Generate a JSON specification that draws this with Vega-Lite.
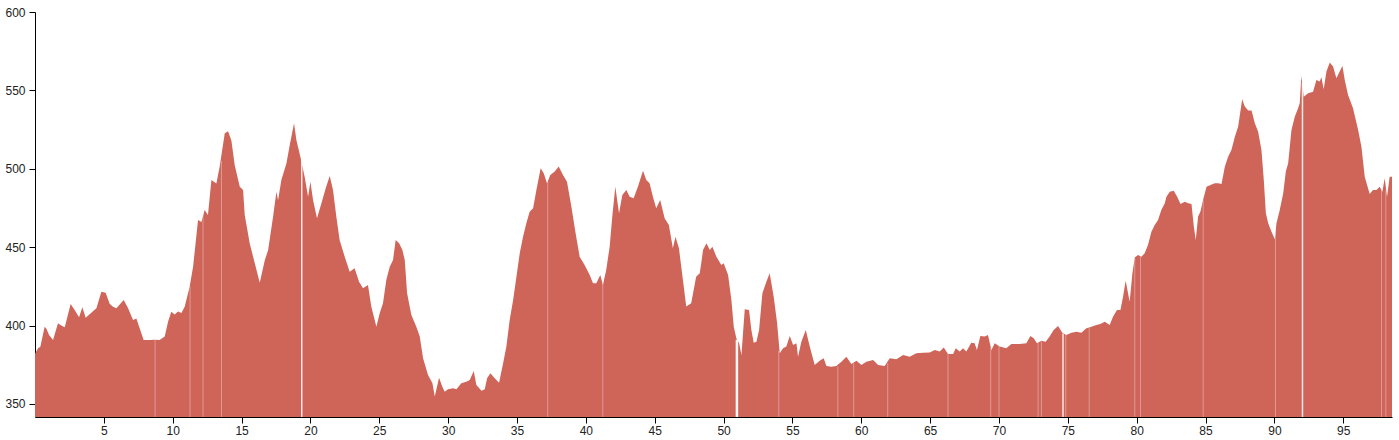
{
  "$schema": "https://vega.github.io/schema/vega-lite/v6.json",
  "width": 1357,
  "height": 405,
  "autosize": {"type": "none"},
  "padding": {"left": 35, "top": 12, "right": 7, "bottom": 23},
  "background": "white",
  "config": {"view": {"stroke": null}, "font": "Liberation Sans"},
  "datasets": {
    "profile": [
      {"km":0,"ele":382},{"km":0.22,"ele":385.5},{"km":0.39,"ele":386.5},{"km":0.7,"ele":399.3},{"km":0.83,"ele":398},{"km":1.02,"ele":394},{"km":1.31,"ele":390.8},{"km":1.67,"ele":401.5},{"km":1.91,"ele":400},{"km":2.16,"ele":399},{"km":2.59,"ele":413.8},{"km":2.88,"ele":410},{"km":3.2,"ele":405.3},{"km":3.44,"ele":411.7},{"km":3.68,"ele":405},{"km":4.46,"ele":411},{"km":4.82,"ele":421.6},{"km":5.13,"ele":421},{"km":5.42,"ele":414},{"km":5.66,"ele":412},{"km":5.91,"ele":411},{"km":6.44,"ele":416.3},{"km":6.76,"ele":411},{"km":7.12,"ele":403.6},{"km":7.36,"ele":404.6},{"km":7.6,"ele":398.3},{"km":7.89,"ele":390.8},{"km":8.33,"ele":390.8},{"km":8.69,"ele":391},{"km":9.05,"ele":390.8},{"km":9.42,"ele":393},{"km":9.66,"ele":402.5},{"km":9.9,"ele":408.9},{"km":10.14,"ele":407},{"km":10.39,"ele":409},{"km":10.63,"ele":408},{"km":10.87,"ele":412},{"km":11.23,"ele":424.8},{"km":11.48,"ele":437.6},{"km":11.84,"ele":467.3},{"km":12.08,"ele":466},{"km":12.32,"ele":473.7},{"km":12.56,"ele":470.6},{"km":12.81,"ele":492.9},{"km":13.17,"ele":490.7},{"km":13.41,"ele":501.3},{"km":13.78,"ele":522.6},{"km":14.02,"ele":524},{"km":14.26,"ele":518},{"km":14.5,"ele":502.4},{"km":14.87,"ele":488.6},{"km":15.11,"ele":486.5},{"km":15.23,"ele":470.5},{"km":15.59,"ele":452.5},{"km":15.96,"ele":439.7},{"km":16.32,"ele":427.4},{"km":16.69,"ele":441.8},{"km":16.93,"ele":448.2},{"km":17.29,"ele":469.5},{"km":17.53,"ele":485.4},{"km":17.65,"ele":480},{"km":17.89,"ele":492.9},{"km":18.26,"ele":503.5},{"km":18.5,"ele":515.2},{"km":18.81,"ele":529},{"km":18.98,"ele":518.4},{"km":19.27,"ele":507.7},{"km":19.58,"ele":495},{"km":19.83,"ele":482.2},{"km":20,"ele":491.8},{"km":20.19,"ele":480.1},{"km":20.48,"ele":468.4},{"km":20.8,"ele":478},{"km":21.11,"ele":487.6},{"km":21.4,"ele":495.4},{"km":21.64,"ele":486.5},{"km":21.88,"ele":469.5},{"km":22.12,"ele":454.6},{"km":22.49,"ele":443.9},{"km":22.85,"ele":434.4},{"km":23.21,"ele":436.5},{"km":23.53,"ele":428},{"km":23.82,"ele":423.8},{"km":24.18,"ele":425.9},{"km":24.42,"ele":412.1},{"km":24.79,"ele":399.3},{"km":25.03,"ele":407.8},{"km":25.27,"ele":414.2},{"km":25.51,"ele":429.1},{"km":25.76,"ele":437.6},{"km":26,"ele":441.8},{"km":26.19,"ele":454.6},{"km":26.44,"ele":452.5},{"km":26.68,"ele":448.2},{"km":26.85,"ele":441.8},{"km":27.02,"ele":420.6},{"km":27.33,"ele":406.8},{"km":27.69,"ele":399.3},{"km":27.94,"ele":393},{"km":28.18,"ele":379.1},{"km":28.54,"ele":368.5},{"km":28.86,"ele":363.2},{"km":29.03,"ele":354.7},{"km":29.34,"ele":366.8},{"km":29.58,"ele":361},{"km":29.75,"ele":357.8},{"km":29.99,"ele":359.4},{"km":30.36,"ele":360},{"km":30.6,"ele":359.4},{"km":30.96,"ele":363.2},{"km":31.32,"ele":364.2},{"km":31.57,"ele":365.3},{"km":31.86,"ele":371},{"km":32.05,"ele":362.1},{"km":32.42,"ele":358.5},{"km":32.66,"ele":359.4},{"km":32.83,"ele":366.4},{"km":33.07,"ele":369.6},{"km":33.38,"ele":366.4},{"km":33.7,"ele":363.6},{"km":33.99,"ele":375.9},{"km":34.23,"ele":386.6},{"km":34.47,"ele":403.6},{"km":34.72,"ele":416.3},{"km":34.96,"ele":431.2},{"km":35.2,"ele":446.1},{"km":35.44,"ele":456.7},{"km":35.68,"ele":465.2},{"km":35.92,"ele":472.6},{"km":36.17,"ele":474.8},{"km":36.41,"ele":486.5},{"km":36.72,"ele":500.3},{"km":36.94,"ele":497.1},{"km":37.18,"ele":490.8},{"km":37.42,"ele":496.1},{"km":37.74,"ele":498.2},{"km":38.03,"ele":501.4},{"km":38.34,"ele":496.1},{"km":38.63,"ele":491.8},{"km":38.95,"ele":475.8},{"km":39.26,"ele":458.8},{"km":39.55,"ele":443.9},{"km":39.91,"ele":438.6},{"km":40.28,"ele":432.3},{"km":40.52,"ele":427},{"km":40.76,"ele":427},{"km":41.05,"ele":432.3},{"km":41.24,"ele":425.9},{"km":41.48,"ele":435.5},{"km":41.73,"ele":450.3},{"km":41.92,"ele":469.5},{"km":42.14,"ele":488.6},{"km":42.41,"ele":471.6},{"km":42.65,"ele":483.3},{"km":42.94,"ele":486.5},{"km":43.18,"ele":482.2},{"km":43.47,"ele":481.2},{"km":43.78,"ele":488.6},{"km":44.15,"ele":498.8},{"km":44.39,"ele":492.9},{"km":44.63,"ele":490.8},{"km":44.87,"ele":482.2},{"km":45.11,"ele":474.8},{"km":45.4,"ele":480.1},{"km":45.72,"ele":468.4},{"km":46.03,"ele":464.2},{"km":46.32,"ele":449.3},{"km":46.51,"ele":456.7},{"km":46.76,"ele":449.3},{"km":47.05,"ele":429.1},{"km":47.29,"ele":412.1},{"km":47.65,"ele":414.2},{"km":48.01,"ele":431.2},{"km":48.27,"ele":433.4},{"km":48.38,"ele":439.7},{"km":48.51,"ele":448.2},{"km":48.76,"ele":452.5},{"km":49,"ele":448.2},{"km":49.19,"ele":450.3},{"km":49.48,"ele":443.9},{"km":49.84,"ele":438.6},{"km":50.01,"ele":439.7},{"km":50.33,"ele":432.3},{"km":50.57,"ele":416.3},{"km":50.74,"ele":399.3},{"km":50.93,"ele":391.9},{"km":51.13,"ele":388.7},{"km":51.3,"ele":381.2},{"km":51.54,"ele":410.4},{"km":51.85,"ele":410},{"km":52.02,"ele":397.2},{"km":52.19,"ele":389.1},{"km":52.39,"ele":389.7},{"km":52.58,"ele":397.2},{"km":52.82,"ele":420.6},{"km":53.11,"ele":428},{"km":53.35,"ele":433.4},{"km":53.64,"ele":418.4},{"km":53.89,"ele":401.5},{"km":54.08,"ele":382.3},{"km":54.32,"ele":385.5},{"km":54.56,"ele":386.6},{"km":54.81,"ele":393.4},{"km":55.05,"ele":387.6},{"km":55.29,"ele":388.7},{"km":55.41,"ele":380.2},{"km":55.65,"ele":389.7},{"km":55.97,"ele":397.2},{"km":56.26,"ele":386.6},{"km":56.62,"ele":374.9},{"km":56.98,"ele":377.6},{"km":57.27,"ele":379.1},{"km":57.47,"ele":374.2},{"km":57.83,"ele":373.8},{"km":58.19,"ele":374.2},{"km":58.56,"ele":377},{"km":58.92,"ele":380.2},{"km":59.28,"ele":375.5},{"km":59.65,"ele":377.6},{"km":60.01,"ele":374.9},{"km":60.37,"ele":377},{"km":60.86,"ele":378.1},{"km":61.22,"ele":374.9},{"km":61.7,"ele":374.2},{"km":62.07,"ele":379.1},{"km":62.55,"ele":378.5},{"km":63.04,"ele":381.2},{"km":63.52,"ele":380.2},{"km":64,"ele":382.3},{"km":64.49,"ele":382.7},{"km":64.97,"ele":382.8},{"km":65.34,"ele":384.4},{"km":65.7,"ele":383.4},{"km":65.99,"ele":386.1},{"km":66.3,"ele":381.9},{"km":66.67,"ele":381.9},{"km":66.86,"ele":385.5},{"km":67.15,"ele":383.4},{"km":67.39,"ele":385.5},{"km":67.63,"ele":383.4},{"km":67.99,"ele":389.1},{"km":68.23,"ele":388.7},{"km":68.4,"ele":384.4},{"km":68.65,"ele":393.4},{"km":68.96,"ele":393},{"km":69.2,"ele":394},{"km":69.45,"ele":384.4},{"km":69.69,"ele":388.7},{"km":70.05,"ele":386.6},{"km":70.53,"ele":385.5},{"km":70.9,"ele":388.3},{"km":71.5,"ele":388.3},{"km":71.99,"ele":388.7},{"km":72.28,"ele":393.4},{"km":72.52,"ele":391.9},{"km":72.76,"ele":388.7},{"km":73.08,"ele":390.4},{"km":73.39,"ele":389.7},{"km":73.68,"ele":393},{"km":73.97,"ele":397.2},{"km":74.29,"ele":399.7},{"km":74.6,"ele":395.5},{"km":74.89,"ele":394},{"km":75.26,"ele":395.5},{"km":75.62,"ele":396.1},{"km":75.98,"ele":395.5},{"km":76.35,"ele":398.3},{"km":76.71,"ele":399.3},{"km":77.07,"ele":400.4},{"km":77.36,"ele":401},{"km":77.68,"ele":402.5},{"km":78.04,"ele":400.4},{"km":78.28,"ele":405.7},{"km":78.57,"ele":409.9},{"km":78.82,"ele":409.9},{"km":79.01,"ele":418.4},{"km":79.2,"ele":428.6},{"km":79.49,"ele":415.2},{"km":79.69,"ele":433.4},{"km":79.86,"ele":443.5},{"km":80.1,"ele":445},{"km":80.34,"ele":443.9},{"km":80.58,"ele":446.1},{"km":80.82,"ele":451.4},{"km":81.07,"ele":459.9},{"km":81.31,"ele":464.2},{"km":81.55,"ele":467.3},{"km":81.79,"ele":473.7},{"km":82.04,"ele":478},{"km":82.16,"ele":482.2},{"km":82.4,"ele":485.4},{"km":82.69,"ele":486},{"km":82.94,"ele":482.2},{"km":83.18,"ele":477.6},{"km":83.49,"ele":479},{"km":83.74,"ele":478},{"km":83.98,"ele":477.6},{"km":84.15,"ele":463.1},{"km":84.29,"ele":454.6},{"km":84.46,"ele":469.5},{"km":84.63,"ele":472.7},{"km":84.82,"ele":480.1},{"km":85.07,"ele":488.6},{"km":85.36,"ele":489.7},{"km":85.67,"ele":490.8},{"km":85.92,"ele":490.8},{"km":86.16,"ele":490.3},{"km":86.4,"ele":501.3},{"km":86.64,"ele":507.7},{"km":86.88,"ele":512},{"km":87.13,"ele":520.5},{"km":87.37,"ele":526.9},{"km":87.66,"ele":544.3},{"km":87.85,"ele":539.7},{"km":88.1,"ele":537.1},{"km":88.34,"ele":537.1},{"km":88.58,"ele":529},{"km":88.82,"ele":523.7},{"km":89.06,"ele":512},{"km":89.23,"ele":492.9},{"km":89.38,"ele":471.6},{"km":89.55,"ele":465.2},{"km":89.79,"ele":459.9},{"km":90.03,"ele":455},{"km":90.15,"ele":465.2},{"km":90.39,"ele":473.7},{"km":90.64,"ele":484.4},{"km":90.83,"ele":498.2},{"km":91,"ele":503.5},{"km":91.24,"ele":524.7},{"km":91.48,"ele":533.2},{"km":91.72,"ele":538.6},{"km":91.84,"ele":541.8},{"km":91.96,"ele":559.2},{"km":92.13,"ele":546},{"km":92.45,"ele":548.2},{"km":92.81,"ele":549.2},{"km":93.05,"ele":556.6},{"km":93.29,"ele":555.6},{"km":93.41,"ele":558.4},{"km":93.58,"ele":550.7},{"km":93.78,"ele":562.1},{"km":94.02,"ele":567.8},{"km":94.26,"ele":565.3},{"km":94.5,"ele":557.7},{"km":94.74,"ele":562.1},{"km":94.94,"ele":565.6},{"km":95.11,"ele":556.6},{"km":95.35,"ele":547.1},{"km":95.71,"ele":538.6},{"km":96.08,"ele":524.7},{"km":96.32,"ele":514.1},{"km":96.56,"ele":495},{"km":96.92,"ele":484},{"km":97.16,"ele":486.5},{"km":97.41,"ele":486.5},{"km":97.65,"ele":488.6},{"km":97.84,"ele":485.4},{"km":98.01,"ele":494},{"km":98.18,"ele":482.2},{"km":98.37,"ele":495},{"km":98.54,"ele":495}
    ],
    "gapsBright": [
      {"km":19.37,"ele":506},{"km":74.65,"ele":395},{"km":92.04,"ele":555}
    ],
    "gapWide": [
      {"km":50.97,"ele":391}
    ],
    "gapsFaint": [
      {"km":8.72,"ele":391},{"km":11.26,"ele":425},{"km":12.2,"ele":472},{"km":13.54,"ele":505},{"km":37.23,"ele":492},{"km":41.23,"ele":427},{"km":54.01,"ele":384},{"km":58.3,"ele":374},{"km":59.45,"ele":376},{"km":61.92,"ele":376},{"km":66.3,"ele":382},{"km":69.4,"ele":386},{"km":70.0,"ele":387},{"km":72.84,"ele":389},{"km":73.08,"ele":390},{"km":74.85,"ele":394},{"km":76.55,"ele":399},{"km":79.86,"ele":443},{"km":80.28,"ele":444},{"km":84.83,"ele":480},{"km":90.08,"ele":462},{"km":97.78,"ele":487},{"km":98.09,"ele":486}
    ]
  },
  "encoding": {
    "x": {
      "field": "km", "type": "quantitative",
      "scale": {"domain": [0, 98.54], "nice": false, "zero": false},
      "axis": {
        "title": null, "values": [5,10,15,20,25,30,35,40,45,50,55,60,65,70,75,80,85,90,95],
        "grid": false, "tickSize": 6, "labelFontSize": 12, "labelColor": "#222",
        "domainColor": "#000", "tickColor": "#000", "labelPadding": 2, "labelFlush": false
      }
    },
    "y": {
      "field": "ele", "type": "quantitative",
      "scale": {"domain": [341.7, 600], "nice": false, "zero": false},
      "axis": {
        "title": null, "values": [350,400,450,500,550,600],
        "grid": false, "tickSize": 6, "labelFontSize": 12, "labelColor": "#222",
        "domainColor": "#000", "tickColor": "#000", "labelPadding": 4, "labelFlush": false
      }
    },
    "y2": {"datum": 341.7}
  },
  "layer": [
    {
      "data": {"name": "profile"},
      "mark": {"type": "area", "color": "#cf6459", "interpolate": "linear", "clip": true}
    },
    {
      "data": {"name": "gapsFaint"},
      "mark": {"type": "rule", "color": "#ffffff", "strokeWidth": 1, "opacity": 0.35}
    },
    {
      "data": {"name": "gapsBright"},
      "mark": {"type": "rule", "color": "#ffffff", "strokeWidth": 1.5, "opacity": 0.85}
    },
    {
      "data": {"name": "gapWide"},
      "mark": {"type": "rule", "color": "#ffffff", "strokeWidth": 2.5, "opacity": 0.95}
    }
  ]
}
